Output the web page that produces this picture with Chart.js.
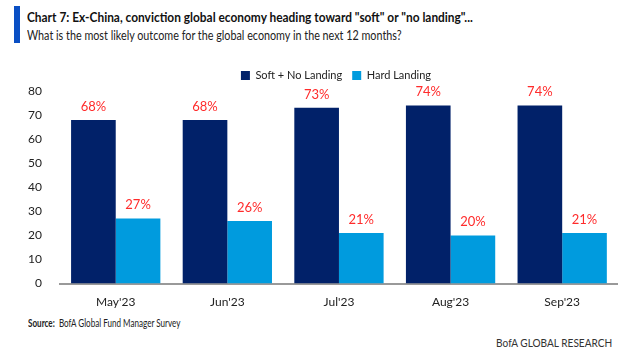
<!DOCTYPE html>
<html>
<head>
<meta charset="utf-8">
<script src="https://cdn.jsdelivr.net/npm/chart.js@4"></script>
<style>
  body { margin: 0; background: #fff; width: 618px; height: 362px; overflow: hidden; position: relative; font-family: Lato, sans-serif; }
  .bar { position: absolute; left: 14px; top: 6px; width: 6px; height: 37px; background: #0a4fc4; }
  .title, .sub { position: absolute; left: 27px; white-space: nowrap; transform-origin: left top; }
  .title { top: 8px; font-size: 14px; font-weight: bold; color: #111; transform: scaleX(0.85); }
  .sub { top: 26px; font-size: 14px; color: #222; transform: scaleX(0.77); }
  .src { position: absolute; left: 28px; top: 317px; font-size: 10.5px; color: #222; white-space: nowrap; transform-origin: left top; transform: scaleX(0.77); }
  .brand { position: absolute; right: 6px; top: 335px; font-size: 12px; color: #333; white-space: nowrap; transform-origin: right top; transform: scaleX(0.84); }
  #wrap { position: absolute; left: 0; top: 60px; width: 618px; height: 252px; }
</style>
</head>
<body>
<div class="bar"></div>
<div class="title">Chart 7: Ex-China, conviction global economy heading toward "soft" or "no landing"...</div>
<div class="sub">What is the most likely outcome for the global economy in the next 12 months?</div>
<div id="wrap"><canvas id="myChart"></canvas></div>
<div class="src"><b>Source:</b>&nbsp; BofA Global Fund Manager Survey</div>
<div class="brand">BofA GLOBAL RESEARCH</div>
<script>
const months = ["May'23", "Jun'23", "Jul'23", "Aug'23", "Sep'23"];
const softNoLanding = [68, 68, 73, 74, 74];
const hardLanding = [27, 26, 21, 20, 21];
const yTicks = [0, 10, 20, 30, 40, 50, 60, 70, 80];

// red % labels above each bar
const valueLabels = {
  id: 'valueLabels',
  afterDatasetsDraw(chart) {
    const c = chart.ctx;
    c.save();
    c.font = '13px Lato, sans-serif';
    c.fillStyle = '#ff2b2b';
    c.textAlign = 'center';
    c.textBaseline = 'bottom';
    chart.data.datasets.forEach((ds, i) => {
      chart.getDatasetMeta(i).data.forEach((bar, j) => {
        c.fillText(ds.data[j] + '%', bar.x, bar.y - 7);
      });
    });
    c.restore();
  }
};

// nudge the legend a bit to the right, like the original
const legendShift = {
  id: 'legendShift',
  afterLayout(chart) {
    if (chart.legend) {
      chart.legend.left += 18;
      chart.legend.right += 18;
    }
  }
};

const ctx = document.getElementById('myChart');

new Chart(ctx, {
  type: 'bar',
  data: {
    labels: months,
    datasets: [{
      label: 'Soft + No Landing',
      data: softNoLanding,
      backgroundColor: '#012169'
    }, {
      label: 'Hard Landing',
      data: hardLanding,
      backgroundColor: '#009bde'
    }]
  },
  options: {
    responsive: true,
    maintainAspectRatio: false,
    animation: false,
    layout: { padding: { left: 18, right: 0, top: 0, bottom: 0 } },
    plugins: {
      legend: {
        labels: {
          boxWidth: 9, boxHeight: 9, color: '#222', padding: 10,
          font: { family: 'Lato', size: 11 }
        }
      },
      tooltip: { enabled: false }
    },
    datasets: { bar: { categoryPercentage: 0.8, barPercentage: 1.0 } },
    scales: {
      x: {
        grid: { display: false },
        border: { display: true, color: '#999', width: 2 },
        ticks: { color: '#222', font: { family: 'Lato', size: 12 } }
      },
      y: {
        min: 0, max: 80,
        afterBuildTicks: axis => { axis.ticks = yTicks.map(v => ({ value: v })); },
        grid: { display: false },
        border: { display: false },
        ticks: { color: '#222', font: { family: 'Lato', size: 12 }, padding: 10 }
      }
    }
  },
  plugins: [valueLabels, legendShift]
});
</script>
</body>
</html>
